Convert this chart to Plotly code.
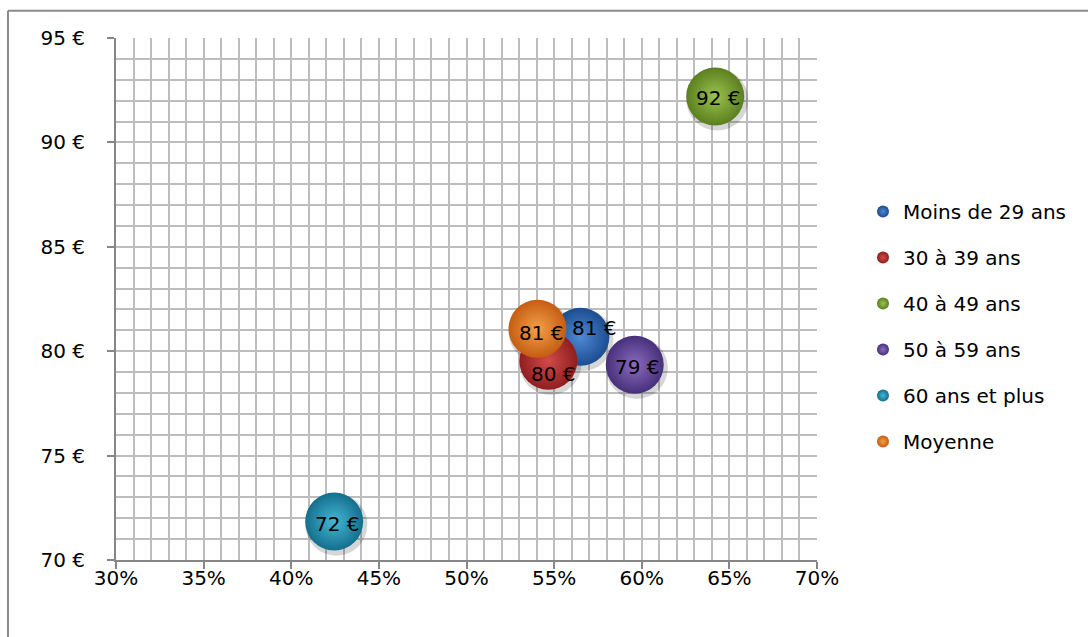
import plotly.graph_objects as go

# Tranches d'âge et valeurs (part en x, montant moyen en € en y)
categories = ["Moins de 29 ans", "30 à 39 ans", "40 à 49 ans", "50 à 59 ans", "60 ans et plus", "Moyenne"]
part = [0.565, 0.5467, 0.6419, 0.596, 0.4245, 0.5405]
montant = [80.69, 79.54, 92.2, 79.35, 71.84, 81.07]
labels = ["81 €", "80 €", "92 €", "79 €", "72 €", "81 €"]

# Couleurs : bord sombre / centre clair pour l'effet de sphère
edge_colors = ["#1b4d8f", "#8f1e1e", "#5b7f1f", "#47307a", "#146f8c", "#c45d12"]
center_colors = ["#4f88d4", "#d24a4a", "#9cc24f", "#8a6bc0", "#46b6d6", "#f5a04a"]

# Décalage des étiquettes (px) pour éviter les chevauchements
label_shift = [(14, 9), (5, -13), (3, -2), (3, -2), (3, -2), (4, -4)]

FONT = "DejaVu Sans"

fig = go.Figure()

# ombres portées légères
for i, name in enumerate(categories):
    fig.add_trace(go.Scatter(
        x=[part[i] + 0.0012], y=[montant[i] - 0.15],
        mode="markers",
        marker=dict(size=62, color="rgba(0,0,0,0.16)", line=dict(width=0)),
        showlegend=False, hoverinfo="skip",
    ))

for i, name in enumerate(categories):
    fig.add_trace(go.Scatter(
        x=[part[i]], y=[montant[i]],
        mode="markers",
        name=name,
        legendgroup=name,
        marker=dict(
            size=58,
            color=edge_colors[i],
            gradient=dict(type="radial", color=center_colors[i]),
            line=dict(width=0),
        ),
    ))

annotations = []
for i, lab in enumerate(labels):
    annotations.append(dict(
        x=part[i], y=montant[i], text=lab, showarrow=False,
        xshift=label_shift[i][0], yshift=label_shift[i][1],
        font=dict(family=FONT, size=20, color="#000000"),
    ))

# cadre extérieur (haut et gauche)
shapes = [
    dict(type="line", xref="paper", yref="paper", x0=-0.1541, x1=1.5, y0=1.0523, y1=1.0523,
         line=dict(color="#8a8a8a", width=2)),
    dict(type="line", xref="paper", yref="paper", x0=-0.1541, x1=-0.1541, y0=1.0523, y1=-0.3,
         line=dict(color="#8a8a8a", width=2)),
]

grid_color = "#bdbdbd"

fig.update_layout(
    width=1088, height=637,
    margin=dict(l=116, r=271, t=38, b=77),
    paper_bgcolor="white", plot_bgcolor="white",
    font=dict(family=FONT, size=20, color="#000000"),
    showlegend=True,
    legend=dict(
        x=1.0656, xanchor="left", y=0.705, yanchor="top",
        font=dict(family=FONT, size=20, color="#000000"),
        itemsizing="constant", tracegroupgap=17,
        bgcolor="rgba(0,0,0,0)",
    ),
    annotations=annotations,
    shapes=shapes,
    xaxis=dict(
        range=[0.30, 0.70], dtick=0.05, tick0=0.30, tickformat=".0%",
        showgrid=True, gridcolor=grid_color, gridwidth=1.5,
        minor=dict(dtick=0.01, showgrid=True, gridcolor=grid_color, gridwidth=1.5),
        showline=True, linecolor="#868686", linewidth=2,
        ticks="outside", ticklen=7, tickcolor="#868686", tickwidth=2,
        zeroline=False, ticklabelstandoff=-8,
    ),
    yaxis=dict(
        range=[70, 95], dtick=5, tick0=70, ticksuffix=" €",
        showgrid=True, gridcolor=grid_color, gridwidth=1.5,
        minor=dict(dtick=1, showgrid=True, gridcolor=grid_color, gridwidth=1.5),
        showline=True, linecolor="#868686", linewidth=2,
        ticks="outside", ticklen=7, tickcolor="#868686", tickwidth=2,
        zeroline=False, ticklabelstandoff=18,
    ),
)

fig.write_html("out.html")
